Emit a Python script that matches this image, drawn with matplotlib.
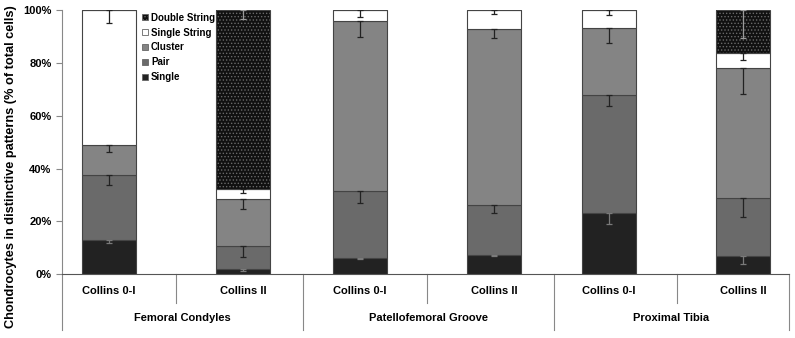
import numpy as np
import matplotlib.pyplot as plt
from matplotlib.patches import Patch
import matplotlib.transforms as mtransforms

plt.rcParams['font.family'] = ['Liberation Sans', 'DejaVu Sans']
plt.rcParams['font.weight'] = 'bold'
plt.rcParams['hatch.linewidth'] = 0.6

## data (% of total cells)
subcats = ['Collins 0-I', 'Collins II', 'Collins 0-I', 'Collins II', 'Collins 0-I', 'Collins II']
groups = ['Femoral Condyles', 'Patellofemoral Groove', 'Proximal Tibia']

single = [13.1, 1.8, 6.2, 7.2, 23.2, 6.7]
pair = [24.4, 8.8, 25.2, 18.9, 44.6, 22.0]
cluster = [11.4, 17.9, 64.4, 66.7, 25.3, 49.2]
single_string = [51.1, 3.6, 4.2, 7.2, 6.9, 5.7]
double_string = [0.0, 67.9, 0.0, 0.0, 0.0, 16.4]

single_err = [1.5, 0.5, 0.5, 0.5, 4.3, 2.7]
pair_err = [3.8, 4.0, 4.6, 2.9, 4.2, 7.2]
cluster_err = [2.5, 4.0, 5.9, 3.5, 5.7, 9.7]
ss_err = [5.0, 1.5, 2.5, 1.3, 2.0, 2.5]
ds_err = [0.0, 3.3, 0.0, 0.0, 0.0, 10.5]

## layout (category units, axis spans 0..6)
xpos = np.array([0.388, 1.494, 2.459, 3.569, 4.514, 5.624])
seps_short = [0.941, 3.012, 5.076]
seps_long = [0.0, 1.989, 4.060, 6.0]
width = 0.446

fig = plt.figure(figsize=(7.95, 3.38), dpi=100)
ax = fig.add_axes([0.078, 0.189, 0.9145, 0.781])

series = [
    ('Single', single, single_err, '#222222', None, '#7a7a7a'),
    ('Pair', pair, pair_err, '#6a6a6a', None, '#222222'),
    ('Cluster', cluster, cluster_err, '#848484', None, '#222222'),
    ('Single String', single_string, ss_err, '#ffffff', None, '#222222'),
    ('Double String', double_string, ds_err, '#111111', '.....', '#9a9a9a'),
]

bottom = np.zeros(6)
handles = []
for name, vals, errs, col, hatch, ecol in series:
    vals = np.array(vals)
    if hatch:
        ax.bar(xpos, vals, width, bottom=bottom, color=col, hatch=hatch,
               edgecolor='#6a6a6a', linewidth=0)
        ax.bar(xpos, vals, width, bottom=bottom, fill=False,
               edgecolor='#444444', linewidth=0.8)
    else:
        ax.bar(xpos, vals, width, bottom=bottom, color=col,
               edgecolor='#444444', linewidth=0.8)
    top = bottom + vals
    m = vals > 0
    errs = np.array(errs)
    ax.errorbar(xpos[m], top[m], yerr=[errs[m], np.zeros(m.sum())], fmt='none',
                ecolor=ecol, elinewidth=0.9, capsize=2, capthick=0.9)
    bottom = top
    handles.append(Patch(facecolor=col, edgecolor='#666666', hatch=hatch,
                         linewidth=0.6, label=name))

ax.set_ylim(0, 100)
ax.set_xlim(0, 6)
ax.set_yticks(np.arange(0, 101, 20))
ax.set_yticklabels([f'{v}%' for v in range(0, 101, 20)], fontsize=8, fontweight='bold')
ax.set_xticks([])
ax.tick_params(axis='y', length=4, color='#888888', width=0.8)
for s in ['top', 'right']:
    ax.spines[s].set_visible(False)
ax.spines['left'].set_color('#888888')
ax.spines['bottom'].set_color('#555555')
fig.text(0.014, 0.506, 'Chondrocytes in distinctive patterns (% of total cells)',
         rotation=90, ha='center', va='center', fontsize=9.2, fontweight='bold')

trans = mtransforms.blended_transform_factory(ax.transData, ax.transAxes)
for x in seps_short:
    ax.plot([x, x], [0, -0.108], transform=trans, color='#888888', lw=0.8, clip_on=False)
for x in seps_long:
    ax.plot([x, x], [0, -0.212], transform=trans, color='#888888', lw=0.8, clip_on=False)

for x, lab in zip(xpos, subcats):
    ax.text(x, -0.064, lab, transform=trans, ha='center', va='center',
            fontsize=8, fontweight='bold')
for i, g in enumerate(groups):
    xc = (seps_long[i] + seps_long[i + 1]) / 2
    ax.text(xc, -0.167, g, transform=trans, ha='center', va='center',
            fontsize=8, fontweight='bold')

leg = ax.legend(handles=handles[::-1], loc='upper left', bbox_to_anchor=(0.105, 1.005),
                frameon=False, fontsize=7, handlelength=0.6, handleheight=0.6,
                handletextpad=0.3, labelspacing=0.5, borderaxespad=0)
for t in leg.get_texts():
    t.set_fontweight('bold')

fig.savefig('out.png', dpi=100)
